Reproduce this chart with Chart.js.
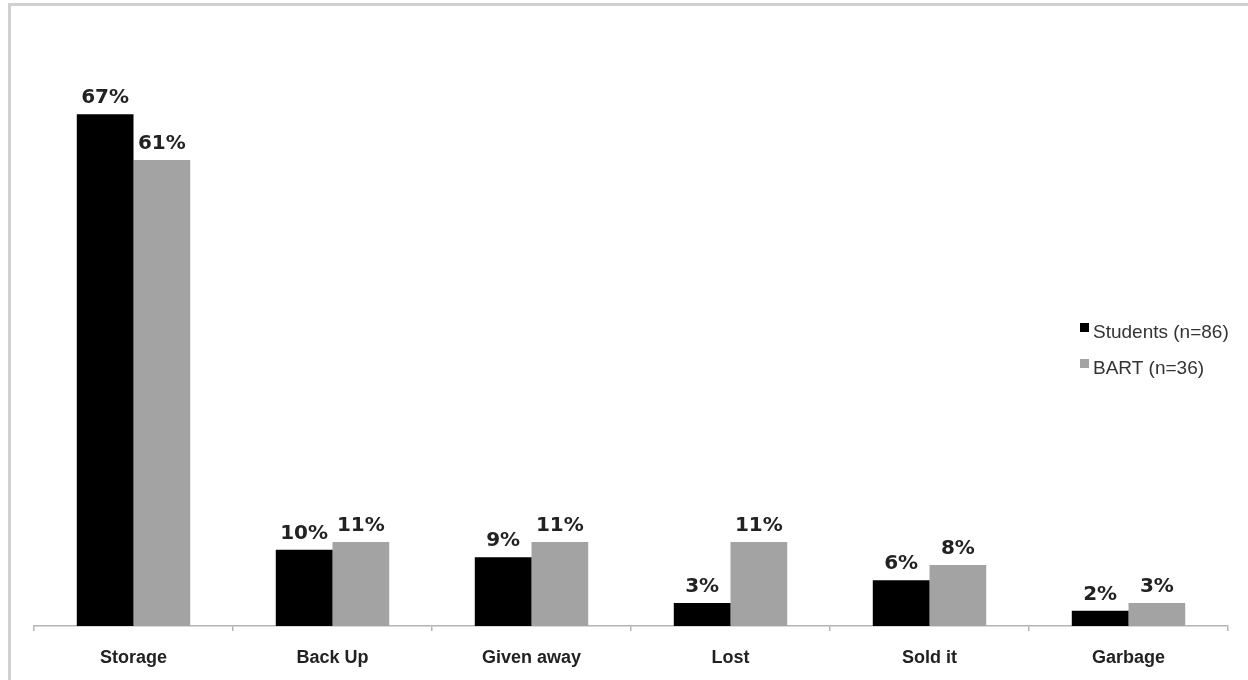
<!DOCTYPE html>
<html>
<head>
<meta charset="utf-8">
<script src="https://cdn.jsdelivr.net/npm/chart.js@4.4.0/dist/chart.umd.min.js"></script>
<style>
    html, body { margin: 0; padding: 0; background: #fff; overflow: hidden; }
    #frame {
        position: absolute; left: 8px; top: 3px;
        width: 1300px; height: 740px;
        border: 3px solid #d0d0d0; box-sizing: border-box;
    }
    #wrap { position: absolute; left: 0; top: 0; width: 1248px; height: 680px; }
</style>
</head>
<body>
<div id="frame"></div>
<div id="wrap"><canvas id="chart"></canvas></div>
<script>
// Categorias e valores (%)
const categories = ['Storage', 'Back Up', 'Given away', 'Lost', 'Sold it', 'Garbage'];
const studentsValues = [67, 10, 9, 3, 6, 2];
const bartValues = [61, 11, 11, 11, 8, 3];
const seriesLabels = ['Students (n=86)', 'BART (n=36)'];

const BLACK = '#000000';
const GRAY = '#a3a3a3';

// Rótulos de valor acima de cada barra
const valueLabels = {
    id: 'valueLabels',
    afterDatasetsDraw(chart) {
        const ctx = chart.ctx;
        ctx.save();
        ctx.font = 'bold 20px "DejaVu Sans"';
        ctx.fillStyle = '#222';
        ctx.textAlign = 'center';
        ctx.textBaseline = 'alphabetic';
        chart.data.datasets.forEach((ds, i) => {
            chart.getDatasetMeta(i).data.forEach((bar, j) => {
                ctx.fillText(ds.data[j] + '%', bar.x, bar.y - 11);
            });
        });
        ctx.restore();
    }
};

// Legenda desenhada dentro da área do gráfico, à direita
const sideLegend = {
    id: 'sideLegend',
    afterDraw(chart) {
        const ctx = chart.ctx;
        ctx.save();
        ctx.font = '19px "Liberation Sans", Arial, sans-serif';
        ctx.textBaseline = 'alphabetic';
        chart.data.datasets.forEach((ds, i) => {
            const y = 338 + i * 36;
            ctx.fillStyle = ds.backgroundColor;
            ctx.fillRect(1080, y - 15, 9, 9);
            ctx.fillStyle = '#333';
            ctx.fillText(ds.label, 1093, y);
        });
        ctx.restore();
    }
};

function renderChart() {
    const ctx = document.getElementById('chart').getContext('2d');
    new Chart(ctx, {
        type: 'bar',
        data: {
            labels: categories,
            datasets: [
                { label: seriesLabels[0], data: studentsValues, backgroundColor: BLACK },
                { label: seriesLabels[1], data: bartValues, backgroundColor: GRAY }
            ]
        },
        options: {
            responsive: true,
            maintainAspectRatio: false,
            animation: false,
            layout: { padding: { left: 34, right: 20, top: 15, bottom: 0 } },
            datasets: {
                bar: { categoryPercentage: 0.57, barPercentage: 1.0 }
            },
            plugins: {
                legend: { display: false },
                tooltip: { enabled: false }
            },
            scales: {
                x: {
                    grid: {
                        display: true,
                        drawOnChartArea: false,
                        drawTicks: true,
                        tickLength: 5,
                        color: '#b4b4b4',
                        lineWidth: 1.5
                    },
                    border: { display: true, color: '#b4b4b4', width: 1.5 },
                    ticks: {
                        color: '#222',
                        padding: 16,
                        font: { family: '"Liberation Sans", Arial, sans-serif', size: 18, weight: 'bold' }
                    },
                    afterFit: scale => { scale.height = 54; }
                },
                y: {
                    display: false,
                    min: 0,
                    max: 80
                }
            }
        },
        plugins: [valueLabels, sideLegend]
    });
}

window.addEventListener('DOMContentLoaded', renderChart);
</script>
</body>
</html>
